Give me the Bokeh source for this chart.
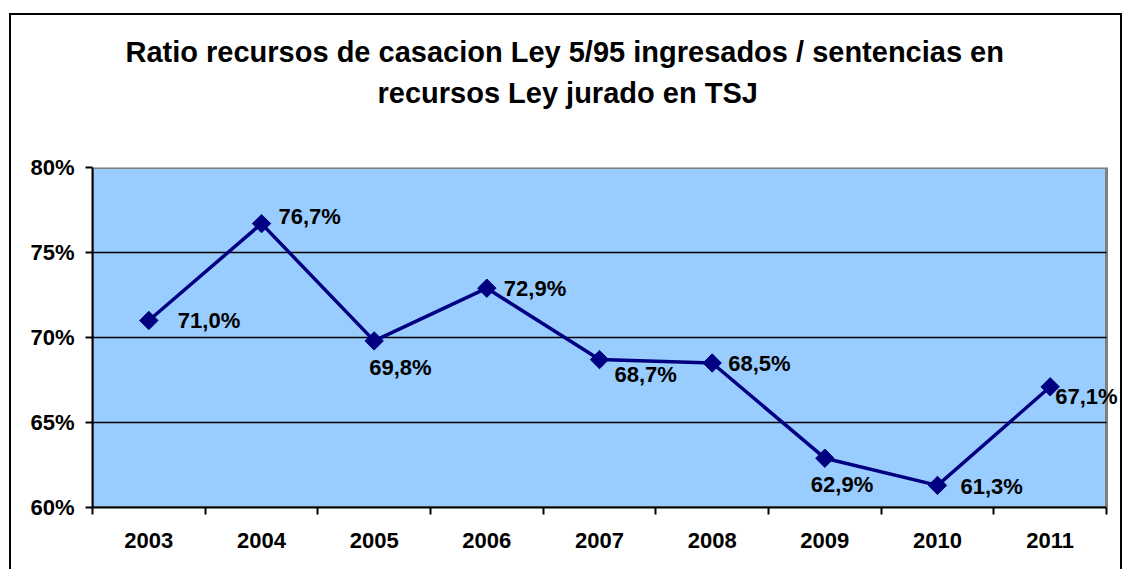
from bokeh.plotting import figure
from bokeh.models import (Range1d, FixedTicker, LinearAxis, PrintfTickFormatter,
                          Label, Title)
from bokeh.layouts import column
from bokeh.embed import file_html
from bokeh.resources import INLINE

# ---- data ----
years = ["2003", "2004", "2005", "2006", "2007", "2008", "2009", "2010", "2011"]
ratio = [71.0, 76.7, 69.8, 72.9, 68.7, 68.5, 62.9, 61.3, 67.1]
y_ticks = [60, 65, 70, 75, 80]

# ---- styling (label placement relative to each point, in px) ----
lab_dx = [29, 17, -5, 17, 15, 16, -14, 23, 5]
lab_dy = [0, -7, 27, 0, 15, 0, 26, 1, 10]

FONT = "Liberation Sans"
NAVY = "#000080"
BLUE = "#99CCFF"

n = len(years)
xs = [i + 0.5 for i in range(n)]
labels = [("%.1f%%" % v).replace(".", ",") for v in ratio]

# frame extends to the outer border so the last label is not cut;
# the blue plot area itself covers categories 0..n
x_end = n * 1028 / 1014

p = figure(width=1109, height=554, output_backend="svg", toolbar_location=None,
           x_range=Range1d(0, x_end), y_range=Range1d(60, 80),
           min_border_left=81, min_border_right=0, min_border_top=152,
           min_border_bottom=62)

p.background_fill_color = "white"
p.border_fill_color = "white"
p.outline_line_color = None

# titles (stacked upward from the frame)
spacer = Title(text=" ", text_font=FONT, text_font_size="10px", standoff=42)
t2 = Title(text="recursos Ley jurado en TSJ", align="left", text_font=FONT,
           text_font_size="29px", text_font_style="bold", text_color="black",
           standoff=8, offset=285)
t1 = Title(text="Ratio recursos de casacion Ley 5/95 ingresados / sentencias en",
           align="left", text_font=FONT, text_font_size="29px",
           text_font_style="bold", text_color="black", standoff=6, offset=33)
p.add_layout(spacer, "above")
p.add_layout(t2, "above")
p.add_layout(t1, "above")

# y axis
ya = p.yaxis[0]
ya.ticker = FixedTicker(ticks=y_ticks)
ya.formatter = PrintfTickFormatter(format="%d%%")
ya.axis_line_color = "black"
ya.axis_line_width = 2
ya.major_tick_line_color = "black"
ya.major_tick_line_width = 2
ya.major_tick_out = 7
ya.major_tick_in = 0
ya.minor_tick_line_color = None
ya.major_label_standoff = 11
ya.major_label_text_font = FONT
ya.major_label_text_font_size = "22px"
ya.major_label_text_font_style = "bold"
ya.major_label_text_color = "black"

# x axis: boundary ticks
xa = p.xaxis[0]
xa.ticker = FixedTicker(ticks=list(range(n + 1)))
xa.bounds = (0, n)
xa.major_label_text_font_size = "0px"
xa.major_label_text_alpha = 0
xa.axis_line_color = "black"
xa.axis_line_width = 2
xa.major_tick_line_color = "black"
xa.major_tick_line_width = 2
xa.major_tick_out = 7
xa.major_tick_in = 0
xa.minor_tick_line_color = None
xa.major_label_standoff = 0

# x axis: year labels at centres
xl = LinearAxis(ticker=FixedTicker(ticks=xs),
                major_label_overrides={x: y for x, y in zip(xs, years)})
xl.axis_line_color = None
xl.major_tick_line_color = None
xl.minor_tick_line_color = None
xl.major_tick_out = 0
xl.major_tick_in = 0
xl.major_label_standoff = 18
xl.major_label_text_font = FONT
xl.major_label_text_font_size = "22px"
xl.major_label_text_font_style = "bold"
xl.major_label_text_color = "black"
p.add_layout(xl, "below")

# plot area background + gray border
p.xgrid.grid_line_color = None
p.ygrid.grid_line_color = None
p.quad(left=0, right=n, bottom=y_ticks[0], top=y_ticks[-1],
       fill_color=BLUE, line_color="#808080", line_width=3)

# horizontal gridlines inside the plot area
inner = y_ticks[1:-1]
p.segment(x0=[0] * len(inner), x1=[n] * len(inner), y0=inner, y1=inner,
          line_color="black", line_width=1.5)

# series
p.line(xs, ratio, line_color=NAVY, line_width=3.5)
p.scatter(xs, ratio, marker="square", angle=0.785398, size=13,
          fill_color=NAVY, line_color=NAVY)

for x, y, t, dx, dy in zip(xs, ratio, labels, lab_dx, lab_dy):
    p.add_layout(Label(x=x, y=y, text=t, x_offset=dx, y_offset=-dy,
                       text_align="left", text_baseline="middle",
                       text_font=FONT, text_font_size="22px",
                       text_font_style="bold", text_color="black"))

layout = column(p, margin=(13, 0, 0, 9),
                styles={"border-top": "2px solid black",
                        "border-left": "2px solid black",
                        "border-right": "2px solid black"})

open("out.html", "w").write(file_html(layout, INLINE))
